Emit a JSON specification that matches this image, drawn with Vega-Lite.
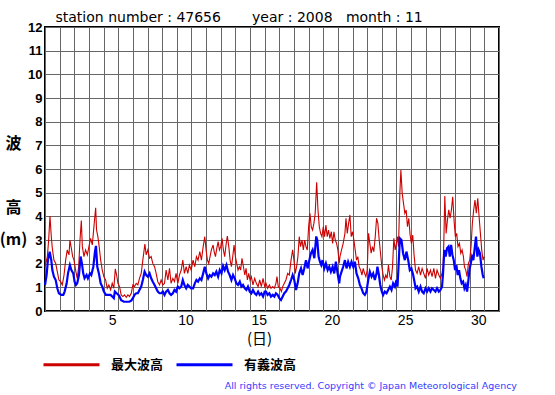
{
  "$schema": "https://vega.github.io/schema/vega-lite/v6.json",
  "width": 454,
  "height": 284,
  "autosize": {"type": "none"},
  "padding": {"left": 45, "top": 27, "right": 56, "bottom": 84},
  "background": "#ffffff",
  "config": {
    "view": {"stroke": "#000000", "strokeWidth": 2},
    "axis": {"labelColor": "#000000", "titleColor": "#000000"}
  },
  "title": {
    "text": "All rights reserved. Copyright © Japan Meteorological Agency",
    "orient": "bottom",
    "anchor": "end",
    "font": "DejaVu Sans",
    "fontSize": 9.5,
    "fontWeight": "normal",
    "color": "#3a3aff",
    "offset": 9,
    "dx": 18
  },
  "datasets": {
    "max": [
      {"t":0,"v":1.87},{"t":0.16,"v":2.3},{"t":0.25,"v":3.0},{"t":0.34,"v":4.01},{"t":0.43,"v":3.14},{"t":0.5,"v":2.65},{"t":0.61,"v":2.15},{"t":0.73,"v":2.01},{"t":0.84,"v":1.66},{"t":0.95,"v":1.31},{"t":1.07,"v":1.24},{"t":1.18,"v":1.1},{"t":1.3,"v":1.52},{"t":1.41,"v":2.15},{"t":1.52,"v":2.58},{"t":1.64,"v":2.37},{"t":1.7,"v":3.0},{"t":1.8,"v":2.65},{"t":1.89,"v":2.3},{"t":1.98,"v":2.15},{"t":2.09,"v":1.73},{"t":2.2,"v":1.38},{"t":2.3,"v":1.87},{"t":2.39,"v":3.0},{"t":2.48,"v":3.82},{"t":2.55,"v":2.72},{"t":2.66,"v":2.3},{"t":2.77,"v":2.58},{"t":2.89,"v":2.37},{"t":3.0,"v":2.72},{"t":3.11,"v":3.07},{"t":3.23,"v":2.79},{"t":3.34,"v":3.56},{"t":3.46,"v":4.36},{"t":3.52,"v":3.42},{"t":3.61,"v":3.14},{"t":3.7,"v":2.72},{"t":3.8,"v":2.15},{"t":3.91,"v":1.73},{"t":4.02,"v":1.45},{"t":4.14,"v":1.31},{"t":4.25,"v":0.96},{"t":4.36,"v":1.1},{"t":4.48,"v":0.89},{"t":4.59,"v":1.17},{"t":4.7,"v":0.96},{"t":4.8,"v":1.78},{"t":4.89,"v":1.52},{"t":4.98,"v":1.17},
      {"t":5.09,"v":1.03},{"t":5.2,"v":0.68},{"t":5.32,"v":0.61},{"t":5.43,"v":0.68},{"t":5.55,"v":0.58},{"t":5.66,"v":0.68},{"t":5.77,"v":0.61},{"t":5.89,"v":0.75},{"t":6.0,"v":1.1},{"t":6.11,"v":1.03},{"t":6.23,"v":1.17},{"t":6.34,"v":1.1},{"t":6.45,"v":1.38},{"t":6.57,"v":1.59},{"t":6.68,"v":2.15},{"t":6.82,"v":2.83},{"t":6.91,"v":2.37},{"t":7.02,"v":2.58},{"t":7.14,"v":2.23},{"t":7.25,"v":2.3},{"t":7.36,"v":2.01},{"t":7.48,"v":1.87},{"t":7.59,"v":1.59},{"t":7.7,"v":1.24},{"t":7.82,"v":1.1},{"t":7.93,"v":1.31},{"t":8.05,"v":1.1},{"t":8.16,"v":1.17},{"t":8.27,"v":1.73},{"t":8.39,"v":1.31},{"t":8.5,"v":1.8},{"t":8.61,"v":1.17},{"t":8.73,"v":1.38},{"t":8.84,"v":1.24},{"t":8.95,"v":1.59},{"t":9.07,"v":1.17},{"t":9.18,"v":1.52},{"t":9.3,"v":1.73},{"t":9.41,"v":2.15},{"t":9.52,"v":1.59},{"t":9.64,"v":1.87},{"t":9.75,"v":1.59},{"t":9.86,"v":1.94},{"t":9.98,"v":1.73},
      {"t":10.11,"v":2.15},{"t":10.23,"v":1.87},{"t":10.34,"v":2.3},{"t":10.45,"v":2.15},{"t":10.57,"v":2.51},{"t":10.68,"v":2.15},{"t":10.8,"v":2.72},{"t":10.91,"v":3.14},{"t":11.0,"v":2.58},{"t":11.09,"v":2.15},{"t":11.18,"v":2.01},{"t":11.27,"v":2.3},{"t":11.36,"v":2.58},{"t":11.48,"v":2.79},{"t":11.55,"v":2.51},{"t":11.64,"v":2.3},{"t":11.73,"v":2.65},{"t":11.82,"v":2.93},{"t":11.91,"v":2.58},{"t":12.0,"v":2.72},{"t":12.09,"v":3.07},{"t":12.18,"v":2.58},{"t":12.27,"v":2.3},{"t":12.36,"v":2.79},{"t":12.45,"v":3.17},{"t":12.55,"v":2.72},{"t":12.64,"v":2.15},{"t":12.73,"v":1.87},{"t":12.82,"v":2.3},{"t":12.91,"v":2.79},{"t":13.0,"v":2.3},{"t":13.09,"v":2.01},{"t":13.18,"v":1.73},{"t":13.27,"v":1.87},{"t":13.36,"v":1.73},{"t":13.45,"v":2.23},{"t":13.55,"v":1.87},{"t":13.64,"v":1.52},{"t":13.73,"v":1.8},{"t":13.82,"v":1.31},{"t":13.91,"v":1.59},{"t":14.0,"v":1.31},{"t":14.09,"v":1.45},{"t":14.2,"v":1.1},{"t":14.32,"v":1.38},{"t":14.43,"v":1.17},{"t":14.55,"v":1.03},{"t":14.66,"v":1.31},{"t":14.77,"v":1.03},{"t":14.89,"v":1.38},{"t":15.0,"v":1.03},
      {"t":15.09,"v":1.17},{"t":15.2,"v":0.96},{"t":15.32,"v":1.1},{"t":15.43,"v":0.96},{"t":15.55,"v":1.03},{"t":15.66,"v":0.96},{"t":15.77,"v":1.17},{"t":15.84,"v":1.45},{"t":15.93,"v":1.03},{"t":16.05,"v":0.96},{"t":16.14,"v":0.82},{"t":16.23,"v":1.03},{"t":16.34,"v":1.17},{"t":16.45,"v":1.31},{"t":16.57,"v":1.59},{"t":16.68,"v":1.52},{"t":16.8,"v":2.15},{"t":16.91,"v":2.58},{"t":17.0,"v":2.15},{"t":17.09,"v":1.59},{"t":17.18,"v":1.87},{"t":17.27,"v":2.3},{"t":17.36,"v":3.14},{"t":17.45,"v":2.72},{"t":17.55,"v":3.0},{"t":17.64,"v":2.58},{"t":17.73,"v":3.0},{"t":17.82,"v":2.72},{"t":17.91,"v":2.58},{"t":18.0,"v":3.56},{"t":18.09,"v":4.13},{"t":18.18,"v":3.56},{"t":18.27,"v":3.42},{"t":18.36,"v":3.7},{"t":18.45,"v":4.13},{"t":18.55,"v":5.44},{"t":18.64,"v":4.27},{"t":18.73,"v":3.56},{"t":18.82,"v":3.28},{"t":18.91,"v":3.14},{"t":19.0,"v":3.56},{"t":19.09,"v":3.14},{"t":19.18,"v":3.63},{"t":19.27,"v":3.14},{"t":19.36,"v":3.42},{"t":19.45,"v":3.07},{"t":19.55,"v":3.35},{"t":19.64,"v":2.86},{"t":19.73,"v":3.35},{"t":19.82,"v":3.0},{"t":19.91,"v":2.86},{"t":20.0,"v":2.58},{"t":20.09,"v":2.01},
      {"t":20.14,"v":2.3},{"t":20.25,"v":2.58},{"t":20.36,"v":2.86},{"t":20.48,"v":3.28},{"t":20.55,"v":3.92},{"t":20.64,"v":3.28},{"t":20.73,"v":3.7},{"t":20.82,"v":4.06},{"t":20.91,"v":3.14},{"t":21.0,"v":3.35},{"t":21.09,"v":3.0},{"t":21.18,"v":2.58},{"t":21.27,"v":2.15},{"t":21.36,"v":2.3},{"t":21.45,"v":1.87},{"t":21.55,"v":1.73},{"t":21.64,"v":1.52},{"t":21.73,"v":1.8},{"t":21.82,"v":1.59},{"t":21.91,"v":1.45},{"t":22.0,"v":1.73},{"t":22.09,"v":3.28},{"t":22.18,"v":2.86},{"t":22.27,"v":2.44},{"t":22.36,"v":2.72},{"t":22.45,"v":2.51},{"t":22.55,"v":3.14},{"t":22.64,"v":3.92},{"t":22.73,"v":3.7},{"t":22.82,"v":3.0},{"t":22.91,"v":2.44},{"t":23.0,"v":1.87},{"t":23.09,"v":1.52},{"t":23.18,"v":1.31},{"t":23.27,"v":1.52},{"t":23.36,"v":1.38},{"t":23.45,"v":1.94},{"t":23.55,"v":1.45},{"t":23.64,"v":1.31},{"t":23.73,"v":1.87},{"t":23.82,"v":3.07},{"t":23.91,"v":2.58},{"t":24.0,"v":2.86},{"t":24.07,"v":3.14},{"t":24.14,"v":2.72},{"t":24.23,"v":4.97},{"t":24.3,"v":5.96},{"t":24.39,"v":4.97},{"t":24.48,"v":4.55},{"t":24.57,"v":4.13},{"t":24.66,"v":4.27},{"t":24.75,"v":3.56},{"t":24.84,"v":3.92},{"t":24.93,"v":3.21},{"t":25.02,"v":2.86},{"t":25.11,"v":3.21},{"t":25.2,"v":2.37},{"t":25.3,"v":1.73},
      {"t":25.41,"v":1.59},{"t":25.52,"v":1.87},{"t":25.64,"v":1.52},{"t":25.75,"v":1.8},{"t":25.86,"v":1.59},{"t":25.98,"v":1.38},{"t":26.09,"v":1.8},{"t":26.2,"v":1.52},{"t":26.32,"v":1.73},{"t":26.43,"v":1.45},{"t":26.55,"v":1.8},{"t":26.66,"v":1.38},{"t":26.77,"v":1.73},{"t":26.89,"v":1.52},{"t":27.0,"v":1.38},{"t":27.11,"v":1.59},{"t":27.18,"v":1.87},{"t":27.23,"v":2.86},{"t":27.3,"v":4.86},{"t":27.39,"v":3.28},{"t":27.48,"v":3.85},{"t":27.57,"v":4.27},{"t":27.66,"v":3.92},{"t":27.75,"v":4.27},{"t":27.84,"v":4.83},{"t":27.93,"v":3.85},{"t":28.02,"v":3.14},{"t":28.11,"v":3.28},{"t":28.2,"v":2.72},{"t":28.3,"v":2.86},{"t":28.39,"v":2.44},{"t":28.48,"v":2.58},{"t":28.57,"v":2.3},{"t":28.64,"v":1.87},{"t":28.73,"v":1.73},{"t":28.82,"v":1.45},{"t":28.91,"v":2.01},{"t":29.0,"v":2.15},{"t":29.09,"v":2.72},{"t":29.18,"v":3.7},{"t":29.27,"v":4.27},{"t":29.36,"v":4.69},{"t":29.45,"v":4.13},{"t":29.55,"v":4.76},{"t":29.64,"v":3.99},{"t":29.73,"v":3.28},{"t":29.82,"v":2.58},{"t":29.91,"v":2.15},{"t":29.98,"v":2.3}
    ],
    "sig": [
      {"t":0,"v":1.1},{"t":0.11,"v":1.52},{"t":0.2,"v":2.15},{"t":0.32,"v":2.5},{"t":0.43,"v":2.15},{"t":0.5,"v":1.73},{"t":0.61,"v":1.45},{"t":0.73,"v":1.31},{"t":0.84,"v":0.96},{"t":0.95,"v":0.75},{"t":1.11,"v":0.68},{"t":1.25,"v":0.68},{"t":1.34,"v":0.82},{"t":1.48,"v":1.17},{"t":1.57,"v":1.59},{"t":1.7,"v":1.94},{"t":1.8,"v":1.73},{"t":1.93,"v":1.59},{"t":2.02,"v":1.24},{"t":2.11,"v":1.1},{"t":2.2,"v":1.17},{"t":2.32,"v":1.52},{"t":2.43,"v":2.3},{"t":2.52,"v":2.01},{"t":2.61,"v":1.59},{"t":2.7,"v":1.38},{"t":2.84,"v":1.52},{"t":2.93,"v":1.38},{"t":3.07,"v":1.59},{"t":3.16,"v":1.52},{"t":3.3,"v":1.87},{"t":3.41,"v":2.5},{"t":3.48,"v":2.75},{"t":3.57,"v":1.87},{"t":3.68,"v":1.59},{"t":3.8,"v":1.17},{"t":3.91,"v":1.03},{"t":4.02,"v":0.82},{"t":4.16,"v":0.68},{"t":4.32,"v":0.68},{"t":4.48,"v":0.68},{"t":4.59,"v":0.61},{"t":4.7,"v":0.54},{"t":4.77,"v":0.82},{"t":4.89,"v":0.75},{"t":5.02,"v":0.68},
      {"t":5.09,"v":0.61},{"t":5.2,"v":0.46},{"t":5.39,"v":0.39},{"t":5.57,"v":0.39},{"t":5.75,"v":0.39},{"t":5.89,"v":0.44},{"t":6.0,"v":0.54},{"t":6.11,"v":0.68},{"t":6.23,"v":0.75},{"t":6.34,"v":0.75},{"t":6.45,"v":0.89},{"t":6.57,"v":1.03},{"t":6.68,"v":1.31},{"t":6.8,"v":1.66},{"t":6.91,"v":1.52},{"t":7.02,"v":1.45},{"t":7.14,"v":1.59},{"t":7.25,"v":1.38},{"t":7.36,"v":1.24},{"t":7.48,"v":1.1},{"t":7.59,"v":0.96},{"t":7.7,"v":0.82},{"t":7.82,"v":0.75},{"t":7.93,"v":0.75},{"t":8.05,"v":0.82},{"t":8.16,"v":0.68},{"t":8.27,"v":0.82},{"t":8.39,"v":0.89},{"t":8.5,"v":0.75},{"t":8.61,"v":0.68},{"t":8.73,"v":0.75},{"t":8.84,"v":0.89},{"t":8.95,"v":0.82},{"t":9.07,"v":1.03},{"t":9.18,"v":0.96},{"t":9.3,"v":1.03},{"t":9.41,"v":1.31},{"t":9.52,"v":1.1},{"t":9.64,"v":0.96},{"t":9.75,"v":1.1},{"t":9.86,"v":1.03},{"t":9.98,"v":0.96},
      {"t":10.11,"v":0.96},{"t":10.23,"v":1.17},{"t":10.34,"v":1.31},{"t":10.45,"v":1.24},{"t":10.57,"v":1.38},{"t":10.68,"v":1.31},{"t":10.8,"v":1.59},{"t":10.91,"v":1.87},{"t":11.02,"v":1.59},{"t":11.14,"v":1.38},{"t":11.25,"v":1.52},{"t":11.36,"v":1.45},{"t":11.48,"v":1.59},{"t":11.59,"v":1.52},{"t":11.7,"v":1.66},{"t":11.82,"v":1.45},{"t":11.93,"v":1.73},{"t":12.05,"v":1.59},{"t":12.16,"v":1.9},{"t":12.27,"v":1.73},{"t":12.39,"v":1.94},{"t":12.5,"v":1.66},{"t":12.61,"v":1.52},{"t":12.73,"v":1.31},{"t":12.84,"v":1.52},{"t":12.95,"v":1.38},{"t":13.07,"v":1.17},{"t":13.18,"v":1.1},{"t":13.3,"v":1.24},{"t":13.41,"v":1.03},{"t":13.52,"v":1.1},{"t":13.64,"v":0.96},{"t":13.75,"v":0.89},{"t":13.86,"v":1.03},{"t":13.98,"v":0.82},{"t":14.09,"v":0.75},{"t":14.2,"v":0.89},{"t":14.32,"v":0.75},{"t":14.43,"v":0.68},{"t":14.55,"v":0.82},{"t":14.66,"v":0.68},{"t":14.77,"v":0.75},{"t":14.89,"v":0.61},{"t":15.0,"v":0.82},
      {"t":15.09,"v":0.82},{"t":15.2,"v":0.68},{"t":15.32,"v":0.75},{"t":15.43,"v":0.61},{"t":15.55,"v":0.68},{"t":15.66,"v":0.61},{"t":15.77,"v":0.75},{"t":15.89,"v":0.68},{"t":16.0,"v":0.54},{"t":16.11,"v":0.46},{"t":16.23,"v":0.61},{"t":16.34,"v":0.75},{"t":16.45,"v":0.82},{"t":16.57,"v":0.96},{"t":16.68,"v":1.1},{"t":16.8,"v":1.31},{"t":16.91,"v":1.52},{"t":17.02,"v":1.31},{"t":17.14,"v":0.89},{"t":17.25,"v":1.17},{"t":17.36,"v":1.59},{"t":17.48,"v":1.8},{"t":17.59,"v":1.52},{"t":17.7,"v":1.8},{"t":17.82,"v":2.15},{"t":17.93,"v":1.8},{"t":18.05,"v":2.15},{"t":18.16,"v":2.44},{"t":18.27,"v":2.58},{"t":18.39,"v":2.23},{"t":18.52,"v":3.15},{"t":18.59,"v":3.0},{"t":18.68,"v":2.3},{"t":18.77,"v":2.08},{"t":18.86,"v":1.94},{"t":18.95,"v":2.15},{"t":19.07,"v":1.8},{"t":19.18,"v":2.01},{"t":19.3,"v":1.73},{"t":19.41,"v":1.87},{"t":19.52,"v":1.66},{"t":19.64,"v":1.87},{"t":19.75,"v":1.59},{"t":19.86,"v":2.08},{"t":19.98,"v":1.59},{"t":20.09,"v":1.17},
      {"t":20.14,"v":1.45},{"t":20.25,"v":1.66},{"t":20.36,"v":1.87},{"t":20.48,"v":2.15},{"t":20.59,"v":1.8},{"t":20.7,"v":2.08},{"t":20.82,"v":1.87},{"t":20.93,"v":2.08},{"t":21.05,"v":1.87},{"t":21.16,"v":2.08},{"t":21.27,"v":1.59},{"t":21.39,"v":1.38},{"t":21.5,"v":1.1},{"t":21.61,"v":0.96},{"t":21.73,"v":0.75},{"t":21.84,"v":0.68},{"t":21.95,"v":0.82},{"t":22.07,"v":1.31},{"t":22.18,"v":1.66},{"t":22.3,"v":1.45},{"t":22.41,"v":1.59},{"t":22.52,"v":1.31},{"t":22.64,"v":1.59},{"t":22.7,"v":1.87},{"t":22.8,"v":1.52},{"t":22.89,"v":1.1},{"t":23.0,"v":0.82},{"t":23.09,"v":0.68},{"t":23.2,"v":0.82},{"t":23.32,"v":0.75},{"t":23.43,"v":0.89},{"t":23.55,"v":1.03},{"t":23.66,"v":0.89},{"t":23.77,"v":1.17},{"t":23.89,"v":1.03},{"t":24.0,"v":1.31},{"t":24.07,"v":1.03},{"t":24.16,"v":2.15},{"t":24.23,"v":3.07},{"t":24.34,"v":3.0},{"t":24.45,"v":2.44},{"t":24.57,"v":2.15},{"t":24.68,"v":2.51},{"t":24.8,"v":2.15},{"t":24.91,"v":1.73},{"t":25.02,"v":1.8},{"t":25.14,"v":1.52},{"t":25.27,"v":1.1},
      {"t":25.3,"v":0.96},{"t":25.41,"v":1.03},{"t":25.52,"v":0.82},{"t":25.64,"v":1.03},{"t":25.75,"v":0.82},{"t":25.86,"v":0.75},{"t":25.98,"v":0.96},{"t":26.09,"v":0.82},{"t":26.2,"v":0.96},{"t":26.32,"v":0.82},{"t":26.43,"v":0.96},{"t":26.55,"v":0.89},{"t":26.66,"v":0.82},{"t":26.77,"v":0.96},{"t":26.89,"v":0.82},{"t":27.0,"v":0.89},{"t":27.11,"v":1.03},{"t":27.18,"v":1.59},{"t":27.27,"v":2.58},{"t":27.36,"v":2.3},{"t":27.45,"v":2.65},{"t":27.55,"v":2.72},{"t":27.64,"v":2.3},{"t":27.73,"v":2.79},{"t":27.82,"v":2.37},{"t":27.91,"v":2.15},{"t":28.0,"v":1.73},{"t":28.09,"v":1.94},{"t":28.18,"v":1.52},{"t":28.27,"v":1.73},{"t":28.36,"v":1.38},{"t":28.45,"v":1.17},{"t":28.55,"v":1.24},{"t":28.64,"v":0.96},{"t":28.73,"v":1.1},{"t":28.82,"v":0.82},{"t":28.89,"v":1.17},{"t":28.98,"v":1.73},{"t":29.07,"v":2.01},{"t":29.16,"v":2.3},{"t":29.25,"v":2.15},{"t":29.34,"v":2.65},{"t":29.43,"v":3.14},{"t":29.52,"v":2.3},{"t":29.61,"v":2.58},{"t":29.7,"v":2.44},{"t":29.8,"v":1.87},{"t":29.89,"v":1.52},{"t":29.95,"v":1.38}
    ]
  },
  "layer": [
    {
      "data": {"name": "max"},
      "mark": {"type": "line", "strokeWidth": 1.1, "interpolate": "linear"},
      "encoding": {
        "x": {
          "field": "t",
          "type": "quantitative",
          "scale": {"domain": [0, 31], "nice": false, "zero": false},
          "axis": {
            "orient": "bottom",
            "values": [0,1,2,3,4,5,6,7,8,9,10,11,12,13,14,15,16,17,18,19,20,21,22,23,24,25,26,27,28,29,30,31],
            "grid": true,
            "gridColor": "#666666",
            "gridWidth": 1,
            "ticks": false,
            "domain": false,
            "labelExpr": "datum.value % 5 === 0 && datum.value > 0 && datum.value < 31 ? datum.value : ''",
            "labelOffset": -6,
            "labelPadding": 2,
            "labelFlush": false,
            "labelOverlap": false,
            "labelFont": "Liberation Sans",
            "labelFontSize": 14,
            "labelColor": "#000000",
            "title": "(日)",
            "titleFont": "Noto Sans CJK JP",
            "titleFontSize": 15,
            "titleFontWeight": "normal",
            "titleX": 214,
            "titleY": 27,
            "titleAlign": "center",
            "titleBaseline": "middle",
            "titleColor": "#000000"
          }
        },
        "y": {
          "field": "v",
          "type": "quantitative",
          "scale": {"domain": [0, 12], "nice": false, "zero": false},
          "axis": {
            "orient": "left",
            "values": [0,1,2,3,4,5,6,7,8,9,10,11,12],
            "grid": true,
            "gridColor": "#666666",
            "gridWidth": 1,
            "ticks": false,
            "domain": false,
            "labelFont": "Liberation Sans",
            "labelFontWeight": "bold",
            "labelFontSize": 13,
            "labelPadding": 3,
            "labelColor": "#000000",
            "title": ["波", "高"],
            "titleFont": "Noto Sans CJK JP",
            "titleFontSize": 16,
            "titleFontWeight": "bold",
            "titleAngle": 0,
            "titleX": -32,
            "titleY": 116,
            "titleAlign": "center",
            "titleBaseline": "middle",
            "titleLineHeight": 64,
            "titleColor": "#000000"
          }
        },
        "color": {
          "datum": "最大波高",
          "type": "nominal",
          "scale": {"domain": ["最大波高", "有義波高"], "range": ["#cc0000", "#0000ff"]},
          "legend": {
            "orient": "none",
            "legendX": -3,
            "legendY": 308,
            "direction": "horizontal",
            "title": null,
            "symbolType": "stroke",
            "symbolSize": 3136,
            "symbolStrokeWidth": 3,
            "labelFont": "Noto Sans CJK JP",
            "labelFontSize": 13,
            "labelFontWeight": "bold",
            "labelOffset": 10,
            "columnPadding": 6,
            "labelColor": "#000000"
          }
        }
      }
    },
    {
      "data": {"name": "sig"},
      "mark": {"type": "line", "strokeWidth": 2.2, "interpolate": "linear"},
      "encoding": {
        "x": {
          "field": "t",
          "type": "quantitative",
          "axis": {
            "orient": "top",
            "grid": false,
            "labels": false,
            "ticks": false,
            "domain": false,
            "title": "station number : 47656\u00a0\u00a0\u00a0\u00a0\u00a0\u00a0\u00a0year : 2008\u00a0\u00a0\u00a0month : 11",
            "titleFont": "DejaVu Sans",
            "titleFontSize": 14,
            "titleFontWeight": "normal",
            "titleX": 10,
            "titleY": -6,
            "titleAlign": "left",
            "titleBaseline": "alphabetic",
            "titleColor": "#000000"
          }
        },
        "y": {
          "field": "v",
          "type": "quantitative",
          "axis": {
            "orient": "left",
            "grid": false,
            "labels": false,
            "ticks": false,
            "domain": false,
            "title": "(m)",
            "titleFont": "Noto Sans CJK JP",
            "titleFontSize": 16,
            "titleFontWeight": "bold",
            "titleAngle": 0,
            "titleX": -32,
            "titleY": 212,
            "titleAlign": "center",
            "titleBaseline": "middle",
            "titleColor": "#000000"
          }
        },
        "color": {"datum": "有義波高", "type": "nominal"}
      }
    }
  ],
  "resolve": {"axis": {"x": "independent", "y": "independent"}}
}
